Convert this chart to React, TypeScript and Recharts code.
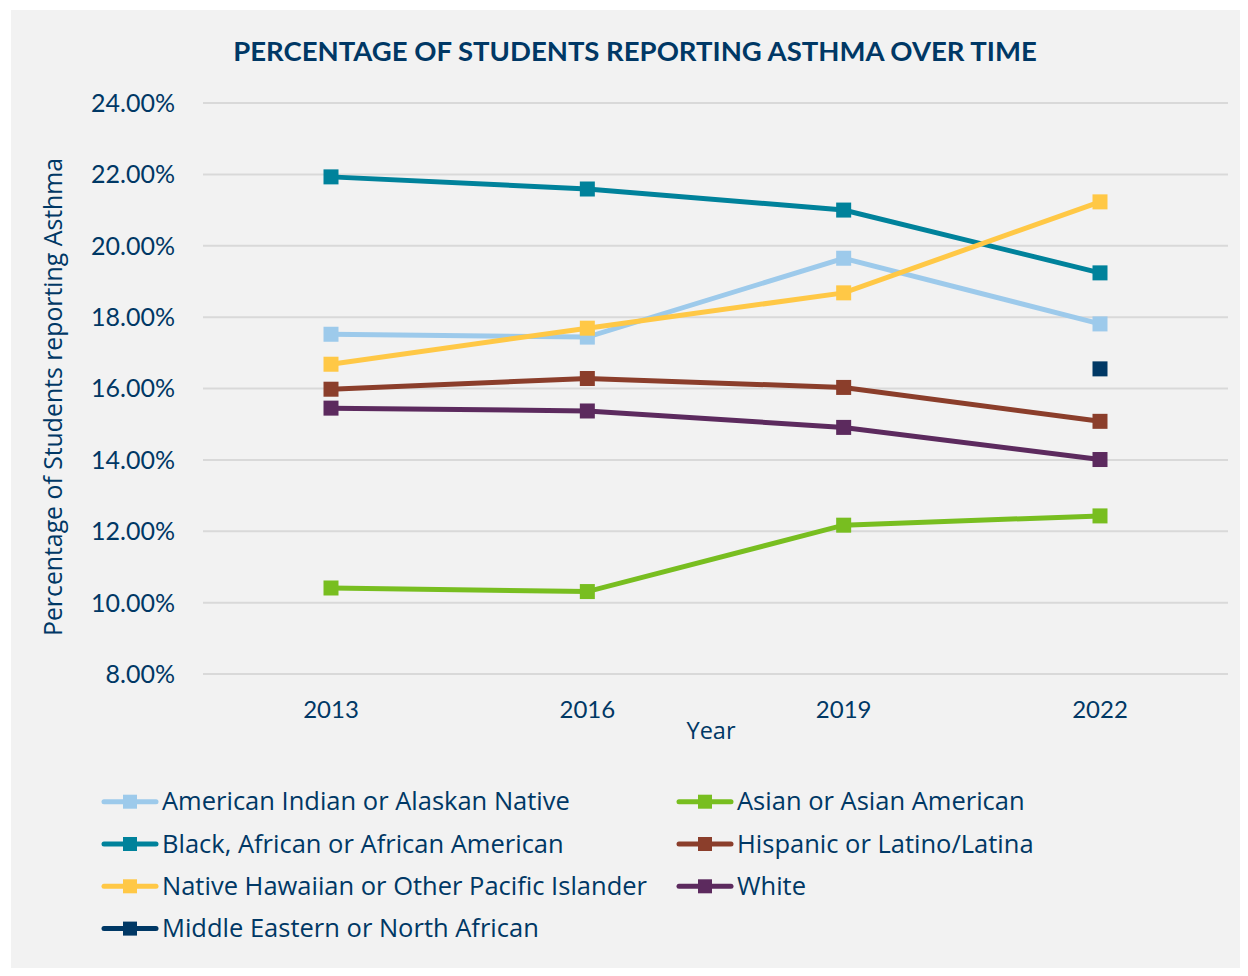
import React from 'react';
import { LineChart, Line, XAxis, YAxis, CartesianGrid } from 'recharts';

const years = ['2013', '2016', '2019', '2022'];
const americanIndian = [17.52, 17.44, 19.65, 17.81];
const asian = [10.41, 10.31, 12.17, 12.43];
const black = [21.93, 21.59, 21.0, 19.24];
const hispanic = [15.98, 16.28, 16.03, 15.08];
const nativeHawaiian = [16.68, 17.69, 18.68, 21.23];
const white = [15.45, 15.37, 14.91, 14.01];
const middleEastern: (number | null)[] = [null, null, null, 16.55];
const yTicks = [8, 10, 12, 14, 16, 18, 20, 22, 24];

const TITLE = 'PERCENTAGE OF STUDENTS REPORTING ASTHMA OVER TIME';
const NAVY = '#003865';
const FONT = 'Lato, "Open Sans", sans-serif';
const FONT2 = '"Open Sans", Lato, sans-serif';

const series = [
  { key: 'ai', name: 'American Indian or Alaskan Native', color: '#9dcaeb', values: americanIndian },
  { key: 'as', name: 'Asian or Asian American', color: '#78be20', values: asian },
  { key: 'bl', name: 'Black, African or African American', color: '#00829b', values: black },
  { key: 'hi', name: 'Hispanic or Latino/Latina', color: '#8b3e2b', values: hispanic },
  { key: 'nh', name: 'Native Hawaiian or Other Pacific Islander', color: '#ffc846', values: nativeHawaiian },
  { key: 'wh', name: 'White', color: '#5c2a5e', values: white },
  { key: 'me', name: 'Middle Eastern or North African', color: '#003865', values: middleEastern },
];

const data = years.map((y, i) => {
  const row: Record<string, any> = { year: y };
  series.forEach((s) => {
    row[s.key] = s.values[i];
  });
  return row;
});

const SquareDot = (color: string) => (props: any) => {
  const { cx, cy, value } = props;
  if (cx == null || cy == null || value == null) return <g key={props.key} />;
  return <rect key={props.key} x={cx - 7.5} y={cy - 7.5} width={15} height={15} fill={color} />;
};

const W = 1234;
const H = 960;

export default function App() {
  return (
    <div style={{ position: 'relative', left: 3, top: 2, width: W, height: H, background: '#f2f2f2', fontFamily: FONT }}>
      <div style={{ position: 'absolute', left: 0, top: 0 }}>
        <LineChart width={W} height={H} data={data} margin={{ top: 93, right: 17, left: 0, bottom: 216 }}>
          <CartesianGrid vertical={false} stroke="#d9d9d9" strokeWidth={2} />
          <XAxis
            dataKey="year"
            axisLine={false}
            tickLine={false}
            tickSize={0}
            tickMargin={27}
            height={80}
            padding={{ left: 128, right: 128 }}
            tick={{ fill: NAVY, fontSize: 24, fontFamily: FONT }}
            label={{
              content: () => (
                <text x={700} y={729} fill={NAVY} fontSize={23.5} fontFamily={FONT2} textAnchor="middle">
                  Year
                </text>
              ),
            }}
          />
          <YAxis
            domain={[8, 24]}
            ticks={yTicks}
            width={192}
            axisLine={false}
            tickLine={false}
            tickSize={0}
            tickMargin={28}
            interval={0}
            tickFormatter={(v: number) => v.toFixed(2) + '%'}
            tick={{ fill: NAVY, fontSize: 25, fontFamily: FONT }}
            label={{
              content: () => (
                <text
                  x={51}
                  y={387}
                  transform="rotate(-90 51 387)"
                  fill={NAVY}
                  fontSize={24.8}
                  fontFamily={FONT2}
                  textAnchor="middle"
                >
                  Percentage of Students reporting Asthma
                </text>
              ),
            }}
          />
          {series.map((s) => (
            <Line
              key={s.key}
              dataKey={s.key}
              name={s.name}
              stroke={s.color}
              strokeWidth={5}
              dot={SquareDot(s.color)}
              activeDot={false}
              isAnimationActive={false}
              connectNulls={false}
            />
          ))}
        </LineChart>
      </div>
      <svg width={W} height={H} style={{ position: 'absolute', left: 0, top: 0, pointerEvents: 'none' }}>
        <text x={624} y={51} fill={NAVY} fontSize={27.5} fontWeight={700} fontFamily={FONT} textAnchor="middle">
          {TITLE}
        </text>
        {series.map((s, i) => {
          const col = i === series.length - 1 ? 0 : i % 2;
          const row = Math.floor(i / 2);
          const x0 = col === 0 ? 91 : 666;
          const ly = 791.7 + row * 42.3;
          return (
            <g key={s.key}>
              <line x1={x0 + 2} y1={ly} x2={x0 + 54} y2={ly} stroke={s.color} strokeWidth={5} strokeLinecap="round" />
              <rect x={x0 + 28 - 7} y={ly - 7} width={14} height={14} fill={s.color} />
              <text x={x0 + 60} y={ly + 8.5} fill={NAVY} fontSize={25.5} fontFamily={FONT2}>
                {s.name}
              </text>
            </g>
          );
        })}
      </svg>
    </div>
  );
}
